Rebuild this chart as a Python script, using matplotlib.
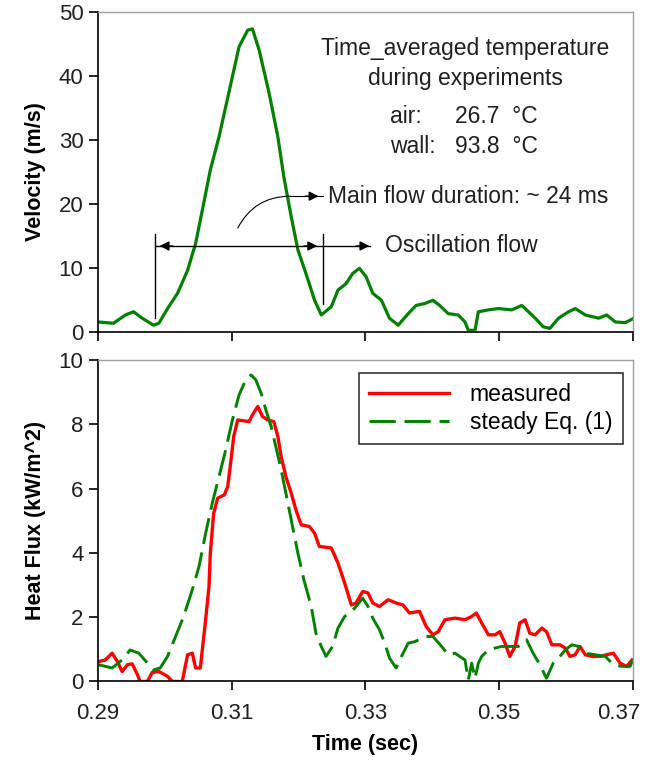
import numpy as np
import matplotlib.pyplot as plt
from matplotlib.transforms import ScaledTranslation

plt.rcParams['font.family'] = ['Liberation Sans', 'DejaVu Sans']

# --- velocity (top panel) ---
t_vel = [0.2901, 0.2923, 0.2941, 0.2953, 0.2966, 0.2983, 0.2991, 0.3004, 0.3019,
         0.3034, 0.3046, 0.3056, 0.3068, 0.3081, 0.3091, 0.3101, 0.3111, 0.3124,
         0.3131, 0.3141, 0.3156, 0.3169, 0.3178, 0.3189, 0.3199, 0.3211, 0.3224,
         0.3234, 0.3249, 0.3259, 0.3271, 0.3281, 0.3291, 0.3301, 0.3311, 0.3324,
         0.3336, 0.3349, 0.3364, 0.3376, 0.3389, 0.3401, 0.3411, 0.3424, 0.3439,
         0.3449, 0.3454, 0.3464, 0.3469, 0.3484, 0.3499, 0.3519, 0.3534, 0.3544,
         0.3554, 0.3566, 0.3576, 0.3589, 0.3604, 0.3614, 0.3629, 0.3649, 0.3661,
         0.3674, 0.3689, 0.3700]
vel = [1.5, 1.3, 2.6, 3.1, 2.1, 1.0, 1.3, 3.6, 6.0,
       9.6, 13.8, 19.0, 25.3, 30.5, 35.2, 39.9, 44.6, 47.2,
       47.4, 44.1, 37.3, 30.5, 24.2, 18.0, 12.8, 9.1, 4.9,
       2.6, 3.9, 6.5, 7.5, 9.1, 9.9, 8.6, 6.0, 4.9,
       2.1, 1.0, 2.8, 4.1, 4.4, 4.9, 4.1, 2.8, 2.6,
       1.5, 0.2, 0.2, 3.1, 3.4, 3.6, 3.4, 4.1, 3.1,
       2.1, 0.75, 0.5, 2.1, 3.1, 3.6, 2.6, 2.1, 2.6,
       1.5, 1.4, 2.0]

# --- heat flux (bottom panel) ---
t_meas = [0.2901, 0.2911, 0.2921, 0.2929, 0.2936, 0.2944, 0.2951, 0.2959, 0.2963,
          0.2974, 0.2981, 0.2991, 0.3004, 0.3011, 0.3026, 0.3034, 0.3041, 0.3046,
          0.3053, 0.3056, 0.3061, 0.3066, 0.3068, 0.3073, 0.3079, 0.3089, 0.3094,
          0.3099, 0.3103, 0.3109, 0.3126, 0.3131, 0.3139, 0.3146, 0.3154, 0.3163,
          0.3169, 0.3174, 0.3181, 0.3189, 0.3196, 0.3204, 0.3216, 0.3224, 0.3231,
          0.3249, 0.3259, 0.3269, 0.3279, 0.3286, 0.3296, 0.3304, 0.3311, 0.3321,
          0.3334, 0.3346, 0.3356, 0.3366, 0.3381, 0.3391, 0.3401, 0.3409, 0.3419,
          0.3434, 0.3449, 0.3459, 0.3466, 0.3474, 0.3484, 0.3494, 0.3501, 0.3509,
          0.3516, 0.3524, 0.3531, 0.3539, 0.3546, 0.3554, 0.3564, 0.3571, 0.3579,
          0.3591, 0.3599, 0.3606, 0.3614, 0.3621, 0.3629, 0.3639, 0.3651, 0.3661,
          0.3671, 0.3681, 0.3691, 0.3699]
q_meas = [0.62, 0.67, 0.88, 0.62, 0.31, 0.52, 0.55, 0.21, 0.0,
          0.0, 0.28, 0.31, 0.16, 0.0, 0.0, 0.83, 0.88, 0.42,
          0.42, 0.98, 1.92, 2.95, 3.99, 5.23, 5.70, 5.80, 6.06,
          6.89, 7.62, 8.13, 8.08, 8.29, 8.55, 8.24, 8.13, 8.08,
          7.62, 6.99, 6.37, 5.86, 5.34, 4.87, 4.82, 4.61, 4.20,
          4.15, 3.68, 3.06, 2.38, 2.44, 2.80, 2.75, 2.44, 2.33,
          2.54, 2.44, 2.38, 2.13, 2.18, 1.71, 1.45, 1.55, 1.92,
          1.97, 1.92, 2.02, 2.13, 1.82, 1.45, 1.45, 1.55, 1.19,
          0.78, 1.09, 1.82, 1.92, 1.50, 1.45, 1.66, 1.55, 1.14,
          1.14, 1.04, 0.78, 0.83, 1.09, 0.83, 0.78, 0.78, 0.83,
          0.88, 0.57, 0.47, 0.67]

t_steady = [0.2901, 0.2921, 0.2936, 0.2948, 0.2961, 0.2974, 0.2983, 0.2993, 0.3004,
            0.3016, 0.3028, 0.3041, 0.3051, 0.3061, 0.3071, 0.3081, 0.3091, 0.3101,
            0.3111, 0.3121, 0.3129, 0.3136, 0.3144, 0.3151, 0.3159, 0.3166, 0.3174,
            0.3181, 0.3191, 0.3199, 0.3208, 0.3219, 0.3226, 0.3234, 0.3241, 0.3251,
            0.3259, 0.3269, 0.3284, 0.3296, 0.3304, 0.3311, 0.3321, 0.3329, 0.3336,
            0.3346, 0.3354, 0.3364, 0.3374, 0.3391, 0.3401, 0.3414, 0.3424, 0.3434,
            0.3449, 0.3454, 0.3459, 0.3464, 0.3469, 0.3474, 0.3484, 0.3494, 0.3504,
            0.3516, 0.3529, 0.3541, 0.3551, 0.3561, 0.3571, 0.3581, 0.3591, 0.3599,
            0.3609, 0.3619, 0.3629, 0.3644, 0.3659, 0.3671, 0.3684, 0.3696, 0.3700]
q_steady = [0.52, 0.42, 0.67, 0.98, 0.88, 0.57, 0.36, 0.42, 0.78,
            1.40, 2.02, 2.85, 3.57, 4.61, 5.55, 6.37, 7.20, 8.13,
            8.91, 9.38, 9.53, 9.38, 8.96, 8.45, 7.93, 7.30, 6.58,
            5.86, 4.82, 3.99, 3.16, 2.33, 1.50, 1.09, 0.78, 1.09,
            1.66, 2.02, 2.28, 2.59, 2.33, 1.97, 1.61, 1.19, 0.73,
            0.42, 0.78, 1.19, 1.24, 1.40, 1.40, 1.09, 0.83, 0.88,
            0.67, 0.05, 0.57, 0.10, 0.57, 0.78, 0.98, 1.04, 1.09,
            1.09, 1.09, 1.30, 0.88, 0.52, 0.10, 0.57, 0.78, 0.98,
            1.14, 1.09, 0.88, 0.83, 0.78, 0.52, 0.47, 0.47, 0.67]

x_ticks = [0.29, 0.31, 0.33, 0.35, 0.37]
x_ticklabels = ['0.29', '0.31', '0.33', '0.35', '0.37']

GREEN = '#008000'
RED = '#ff0000'
TXT = '#202020'
FS = 16.5

fig = plt.figure(figsize=(6.45, 7.64), dpi=100)
ax1 = fig.add_axes([0.152, 0.566, 0.829, 0.418])
ax2 = fig.add_axes([0.152, 0.108, 0.829, 0.421])


def style_axis(ax):
    for side in ('top', 'right'):
        ax.spines[side].set_color('#a0a0a0')
        ax.spines[side].set_linewidth(1.0)
    for side in ('left', 'bottom'):
        ax.spines[side].set_color('black')
        ax.spines[side].set_linewidth(1.2)
    ax.tick_params(direction='out', length=6.5, width=1.2, labelsize=16,
                   colors='black', labelcolor=TXT)
    ax.tick_params(axis='y', pad=4)
    ax.tick_params(axis='x', pad=9)
    ax.set_xlim(0.29, 0.37)
    ax.set_xticks(x_ticks)


# top panel
style_axis(ax1)
ax1.plot(t_vel, vel, color=GREEN, lw=2.3)
ax1.set_ylim(0, 50)
ax1.set_yticks([0, 10, 20, 30, 40, 50])
ax1.set_xticklabels([])
ax1.set_ylabel('Velocity (m/s)', fontsize=15.5, fontweight='bold', labelpad=9)

# annotations (brackets for flow durations)
ax1.plot([0.2985, 0.2985], [2.2, 15.3], color='black', lw=1.0)
ax1.plot([0.3236, 0.3236], [4.3, 15.3], color='black', lw=1.0)
ax1.plot([0.2985, 0.3307], [13.4, 13.4], color='black', lw=1.0)
head = dict(arrowstyle='-|>', color='black', lw=1.0, mutation_scale=14,
            shrinkA=0, shrinkB=0)
ax1.annotate('', xy=(0.2992, 13.4), xytext=(0.3012, 13.4), arrowprops=head)
ax1.annotate('', xy=(0.3228, 13.4), xytext=(0.3208, 13.4), arrowprops=head)
ax1.annotate('', xy=(0.3306, 13.4), xytext=(0.3286, 13.4), arrowprops=head)
ax1.annotate('', xy=(0.3187, 21.2), xytext=(0.3109, 16.2),
             arrowprops=dict(arrowstyle='-', color='black', lw=0.8,
                             connectionstyle='arc3,rad=-0.3',
                             shrinkA=0, shrinkB=0))
ax1.plot([0.3187, 0.3236], [21.2, 21.2], color='black', lw=0.8)
ax1.annotate('', xy=(0.3230, 21.2), xytext=(0.3210, 21.2), arrowprops=head)

ax1.text(0.3244, 21.2, 'Main flow duration: ~ 24 ms', fontsize=FS,
         va='center', ha='left', color=TXT)
ax1.text(0.3330, 13.4, 'Oscillation flow', fontsize=FS,
         va='center', ha='left', color=TXT)
ax1.text(0.3449, 44.3, 'Time_averaged temperature', fontsize=FS,
         va='center', ha='center', color=TXT)
ax1.text(0.3449, 39.6, 'during experiments', fontsize=FS,
         va='center', ha='center', color=TXT)
ax1.text(0.3337, 33.6, 'air:', fontsize=FS, va='center', ha='left', color=TXT)
ax1.text(0.3434, 33.6, '26.7  \u00b0C', fontsize=FS, va='center', ha='left', color=TXT)
ax1.text(0.3337, 29.0, 'wall:', fontsize=FS, va='center', ha='left', color=TXT)
ax1.text(0.3434, 29.0, '93.8  \u00b0C', fontsize=FS, va='center', ha='left', color=TXT)

# bottom panel
style_axis(ax2)
ax2.plot(t_meas, q_meas, color=RED, lw=2.4, label='measured')
ax2.plot(t_steady, q_steady, color=GREEN, lw=2.1, linestyle=(0, (9, 3)),
         label='steady Eq. (1)')
ax2.set_ylim(0, 10)
ax2.set_yticks([0, 2, 4, 6, 8, 10])
ax2.set_xticklabels(x_ticklabels)
# last tick label sits at the figure edge; nudge it left so it stays visible
last = ax2.get_xticklabels()[-1]
last.set_transform(last.get_transform() + ScaledTranslation(-14 / 100, 0, fig.dpi_scale_trans))
ax2.set_ylabel('Heat Flux (kW/m^2)', fontsize=15.5, fontweight='bold', labelpad=9)
ax2.set_xlabel('Time (sec)', fontsize=15.5, fontweight='bold', labelpad=7)

leg = ax2.legend(loc='upper right', bbox_to_anchor=(0.981, 0.96), fontsize=FS,
                 frameon=True, fancybox=False, handlelength=3.5,
                 handletextpad=0.9, borderpad=0.45, labelspacing=0.2,
                 borderaxespad=0)
leg.get_frame().set_edgecolor('black')
leg.get_frame().set_linewidth(1.2)

fig.savefig('out.png', dpi=100)
